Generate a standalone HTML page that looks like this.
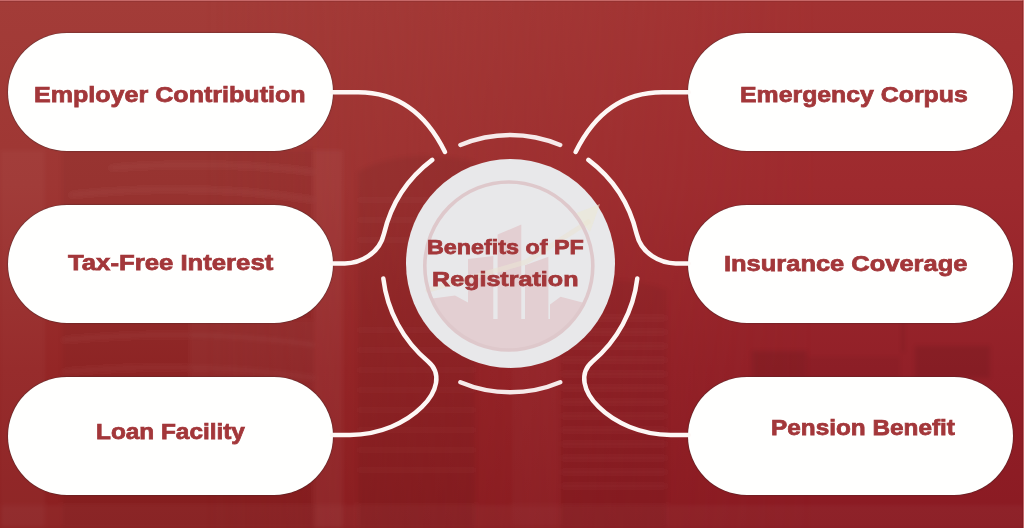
<!DOCTYPE html>
<html><head><meta charset="utf-8">
<style>
html,body{margin:0;padding:0;}
body{width:1024px;height:528px;overflow:hidden;position:relative;background:#9a2e30;font-family:"Liberation Sans",sans-serif;}
#bg{position:absolute;left:0;top:0;width:1024px;height:528px;}
.pill{position:absolute;width:325px;height:118px;border-radius:59px;background:#fffffe;box-shadow:0 0 0.8px 0.6px rgba(50,38,38,0.5);}
.t{position:absolute;white-space:nowrap;font-weight:bold;color:#a3373a;-webkit-text-stroke:0.75px #a3373a;font-size:23px;line-height:23px;transform-origin:0 0;}
.c{font-size:21.5px;line-height:21.5px;}
svg{position:absolute;left:0;top:0;}
</style></head><body>
<svg id="bg" width="1024" height="528" viewBox="0 0 1024 528">
  <defs>
    <linearGradient id="gL" x1="0" y1="0" x2="0" y2="1">
      <stop offset="0" stop-color="rgb(163,60,56)"/>
      <stop offset="0.35" stop-color="rgb(158,54,51)"/>
      <stop offset="0.7" stop-color="rgb(148,38,38)"/>
      <stop offset="1" stop-color="rgb(139,31,32)"/>
    </linearGradient>
    <linearGradient id="gR" x1="0" y1="0" x2="0" y2="1">
      <stop offset="0" stop-color="rgb(162,50,50)"/>
      <stop offset="0.35" stop-color="rgb(158,42,46)"/>
      <stop offset="0.7" stop-color="rgb(146,32,40)"/>
      <stop offset="1" stop-color="rgb(138,26,34)"/>
    </linearGradient>
    <linearGradient id="gm" x1="0" y1="0" x2="1" y2="0">
      <stop offset="0.2" stop-color="#fff" stop-opacity="0"/>
      <stop offset="0.8" stop-color="#fff" stop-opacity="1"/>
    </linearGradient>
    <mask id="mR"><rect width="1024" height="528" fill="url(#gm)"/></mask>
    <filter id="bl" x="-5%" y="-5%" width="110%" height="110%"><feGaussianBlur stdDeviation="2"/></filter>
  </defs>
  <rect width="1024" height="528" fill="url(#gL)"/>
  <rect width="1024" height="528" fill="url(#gR)" mask="url(#mR)"/>
  <g filter="url(#bl)">
  <g fill="#000">
    <polygon points="62,150 315,150 315,528 62,528" opacity="0.045"/>
    <path d="M358,172 Q380,158 420,156 Q455,156 475,162 L475,528 L358,528 Z" opacity="0.05"/>
    <path d="M560,292 Q612,270 667,290 L667,528 L560,528 Z" opacity="0.045"/>
    <rect x="752" y="351" width="55" height="27" opacity="0.08"/>
    <rect x="807" y="357" width="93" height="21" opacity="0.04"/>
    <rect x="915" y="346" width="75" height="32" opacity="0.08"/>
    <rect x="902" y="320" width="2" height="32" opacity="0.1"/>
  </g>
  <g fill="#fff">
    <rect x="0" y="150" width="45" height="378" opacity="0.03"/>
    <rect x="315" y="150" width="28" height="378" opacity="0.045"/>
    <rect x="512" y="300" width="46" height="228" opacity="0.02"/>
    <rect x="190" y="320" width="125" height="70" opacity="0.03"/>
  </g>
  <g fill="none" stroke="#fff" opacity="0.045" stroke-width="4">
    <path d="M110,168 Q220,160 315,172"/>
    <path d="M70,195 Q200,182 315,200"/>
    <path d="M62,340 Q200,328 315,345"/>
    <path d="M62,372 Q200,360 315,378"/>
  </g>
  <g stroke="#fff" stroke-width="1.5" opacity="0.055">
    <path d="M560,318 H667 M560,332 H667 M560,346 H667 M560,360 H667 M560,374 H667 M560,388 H667 M560,402 H667 M560,416 H667 M560,430 H667 M560,444 H667 M560,458 H667 M560,472 H667 M560,486 H667"/>
    <path d="M358,200 H475 M358,220 H475 M358,240 H475 M358,330 H475 M358,350 H475 M358,370 H475 M358,390 H475 M358,410 H475 M358,430 H475 M358,450 H475 M358,470 H475"/>
  </g>
  <rect x="0" y="505" width="1024" height="23" fill="#fff" opacity="0.03"/>
  </g>
  <rect x="0" y="0" width="1024" height="1" fill="#cc7070" opacity="0.85"/>
  <rect x="0" y="1" width="1024" height="1" fill="#7a2a2c" opacity="0.3"/>
  <rect x="1023" y="0" width="1" height="528" fill="#d88282" opacity="0.75"/>
  <rect x="1022" y="0" width="1" height="528" fill="#5a1a1c" opacity="0.25"/>
</svg>

<div class="pill" style="left:7.5px;top:33px"></div>
<div class="pill" style="left:7.5px;top:205px"></div>
<div class="pill" style="left:7.5px;top:377px"></div>
<div class="pill" style="left:688px;top:33px"></div>
<div class="pill" style="left:688px;top:205px"></div>
<div class="pill" style="left:688px;top:377px"></div>

<svg width="1024" height="528" viewBox="0 0 1024 528">
  <circle cx="510.5" cy="263.4" r="104.5" fill="#e8e8ea"/>
  <defs><clipPath id="cc"><circle cx="508.8" cy="266" r="83"/></clipPath></defs>
  <g clip-path="url(#cc)" fill="#e3cfd2">
    <polygon points="400,303 455,295.5 468,302.5 468,319 550,319 550,304.5 560.6,296.7 600,307 600,380 400,380"/>
    <polygon points="468,259 493.3,256 493.3,320 468,320"/>
    <polygon points="497.6,234.5 521.3,224.6 521.3,320 497.6,320"/>
    <polygon points="525,265.3 548.4,256.7 548.4,320 525,320"/>
  </g>
  <path d="M428,290 L526,262 L588,222" stroke="#e9e3d4" stroke-width="5" fill="none" stroke-linecap="round" opacity="0.6"/>
  <polygon points="600,204 574,214 590,232" fill="#ebe8d2" opacity="0.55"/>
  <circle cx="508.8" cy="266" r="84" fill="none" stroke="#dec8cb" stroke-width="3.6"/>
  <g fill="none" stroke="#fdf7f5" stroke-width="4.5" stroke-linecap="round">
    <g id="L">
      <path d="M332,92.2 H358.3 C396.8,92.2 425.6,112.4 445,152"/>
      <path d="M432.2,159.9 A129.8,129.8 0 0 0 383.96,233.88 C379.22,254.03 359.98,263.4 344.86,263.4 H332"/>
      <path d="M383.32,278.52 A127.85,127.85 0 0 0 428.09,361.51 C455.87,384.85 409.85,434.9 350,434.9 H332"/>
    </g>
    <use href="#L" transform="translate(1020.6,0) scale(-1,1)"/>
    <path d="M460.43,144.96 A128.7,128.7 0 0 1 560.17,144.96" stroke="#f6eaea"/>
    <path d="M460.43,382.24 A128.7,128.7 0 0 0 560.17,382.24" stroke="#f6eaea"/>
  </g>
</svg>

<div class="t" style="left:34.05px;top:83.70px;font-size:22.5px;line-height:22.5px;transform:scaleX(1.1144)">Employer Contribution</div>
<div class="t" style="left:67.57px;top:252.40px;font-size:22.5px;line-height:22.5px;transform:scaleX(1.1427)">Tax-Free Interest</div>
<div class="t" style="left:95.67px;top:421.30px;font-size:22.5px;line-height:22.5px;transform:scaleX(1.0827)">Loan Facility</div>
<div class="t" style="left:740.43px;top:83.70px;font-size:22.5px;line-height:22.5px;transform:scaleX(1.1040)">Emergency Corpus</div>
<div class="t" style="left:724.41px;top:252.50px;font-size:22.5px;line-height:22.5px;transform:scaleX(1.1315)">Insurance Coverage</div>
<div class="t" style="left:771.48px;top:417.30px;font-size:22.5px;line-height:22.5px;transform:scaleX(1.0816)">Pension Benefit</div>
<div class="t c" style="left:426.73px;top:236.80px;font-size:20.5px;line-height:20.5px;transform:scaleX(1.1373)">Benefits of PF</div>
<div class="t c" style="left:432.19px;top:268.80px;font-size:20.5px;line-height:20.5px;transform:scaleX(1.2247)">Registration</div>
</body></html>
